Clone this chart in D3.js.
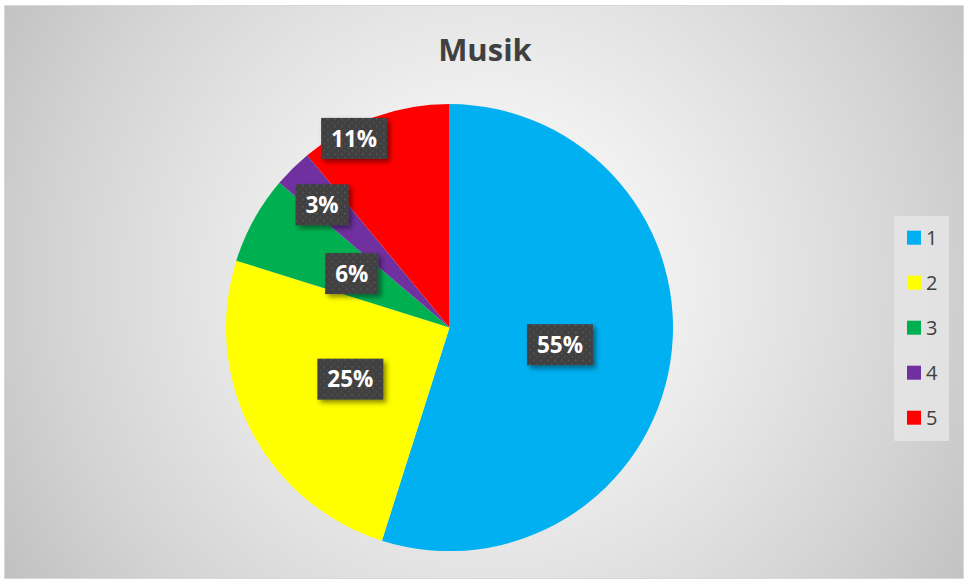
<!DOCTYPE html>
<html>
<head>
<meta charset="utf-8">
<script src="https://cdn.jsdelivr.net/npm/d3@7/dist/d3.min.js"></script>
<style>
  html, body { margin: 0; padding: 0; background: #ffffff; }
  svg { display: block; }
</style>
</head>
<body>
<svg id="chart" width="966" height="580"></svg>
<script>
// ---- data ----
const title = "Musik";
const categories = ["1", "2", "3", "4", "5"];
const values = [55, 25, 6.4, 2.8, 11];
const colors = ["#00B0F0", "#FFFF00", "#00B050", "#7030A0", "#FF0000"];

// label placement (radius fraction, angle shift in degrees) – layout only
const labelRadius = [0.5, 0.5, 0.5, 0.792, 0.948];
const labelShift = [0, 0, 0, -1.5, -7];

const W = 966, H = 580;
const svg = d3.select("#chart");
const defs = svg.append("defs");

// background gradient
const grad = defs.append("radialGradient")
  .attr("id", "bg").attr("gradientUnits", "userSpaceOnUse")
  .attr("cx", 490).attr("cy", 280).attr("r", 560);
[[0, "#ffffff"], [0.33, "#efefef"], [0.53, "#e3e3e3"], [0.78, "#d3d3d3"], [1, "#c2c2c2"]]
  .forEach(([o, c]) => grad.append("stop").attr("offset", o).attr("stop-color", c));

// dotted label pattern
const pat = defs.append("pattern").attr("id", "dots")
  .attr("patternUnits", "userSpaceOnUse").attr("width", 7).attr("height", 7);
pat.append("rect").attr("width", 7).attr("height", 7).attr("fill", "#404040");
pat.append("rect").attr("x", 1).attr("y", 1).attr("width", 1.6).attr("height", 1.6).attr("fill", "#5a5a5a");
pat.append("rect").attr("x", 4.5).attr("y", 4.5).attr("width", 1.6).attr("height", 1.6).attr("fill", "#505050");

const shadow = defs.append("filter").attr("id", "shadow")
  .attr("x", "-30%").attr("y", "-30%").attr("width", "170%").attr("height", "170%");
shadow.append("feDropShadow").attr("dx", 3).attr("dy", 3).attr("stdDeviation", 2.5)
  .attr("flood-color", "#000").attr("flood-opacity", 0.45);

// chart area
svg.append("rect").attr("x", 4.5).attr("y", 5.5).attr("width", 959).attr("height", 573)
  .attr("fill", "url(#bg)").attr("stroke", "#d9d9d9").attr("stroke-width", 1);

// title
svg.append("text").attr("x", 485).attr("y", 61)
  .attr("text-anchor", "middle")
  .attr("font-family", "'Open Sans', sans-serif").attr("font-weight", 700)
  .attr("font-size", 31).attr("fill", "#404040")
  .text(title);

// pie
const cx = 449.5, cy = 327.6, R = 223.5;
const total = d3.sum(values);
const pie = d3.pie().sort(null).value(d => d)(values);
const arc = d3.arc().innerRadius(0).outerRadius(R);
const g = svg.append("g").attr("transform", `translate(${cx},${cy})`);
g.selectAll("path.slice").data(pie).join("path")
  .attr("class", "slice")
  .attr("d", arc)
  .attr("fill", (d, i) => colors[i]);

// labels
const lab = g.selectAll("g.lab").data(pie).join("g").attr("class", "lab")
  .attr("transform", (d, i) => {
    const a = (d.startAngle + d.endAngle) / 2 + labelShift[i] * Math.PI / 180;
    const r = R * labelRadius[i];
    return `translate(${r * Math.sin(a)},${-r * Math.cos(a)})`;
  });
lab.each(function(d) {
  const gg = d3.select(this);
  const txt = Math.round(d.value / total * 100) + "%";
  const box = gg.append("rect").attr("fill", "url(#dots)").attr("filter", "url(#shadow)");
  const t = gg.append("text")
    .attr("text-anchor", "middle").attr("dy", "0.36em")
    .attr("font-family", "'Open Sans', sans-serif").attr("font-weight", 700)
    .attr("font-size", 22.5).attr("fill", "#ffffff")
    .text(txt);
  const w = t.node().getComputedTextLength() + 20;
  box.attr("x", -w / 2).attr("y", -20.5).attr("width", w).attr("height", 41);
});

// legend
const legY = d3.scalePoint().domain(categories).range([237.7, 417.7]);
const leg = svg.append("g");
leg.append("rect").attr("x", 894).attr("y", 216).attr("width", 55).attr("height", 225)
  .attr("fill", "#e5e5e5").attr("fill-opacity", 0.85);
const li = leg.selectAll("g.li").data(categories).join("g").attr("class", "li")
  .attr("transform", d => `translate(907,${legY(d)})`);
li.append("rect").attr("x", 0).attr("y", -7).attr("width", 14).attr("height", 14)
  .attr("fill", (d, i) => colors[i]);
li.append("text").attr("x", 19).attr("dy", "0.36em")
  .attr("font-family", "'Open Sans', sans-serif").attr("font-size", 20)
  .attr("fill", "#404040").text(d => d);
</script>
</body>
</html>
